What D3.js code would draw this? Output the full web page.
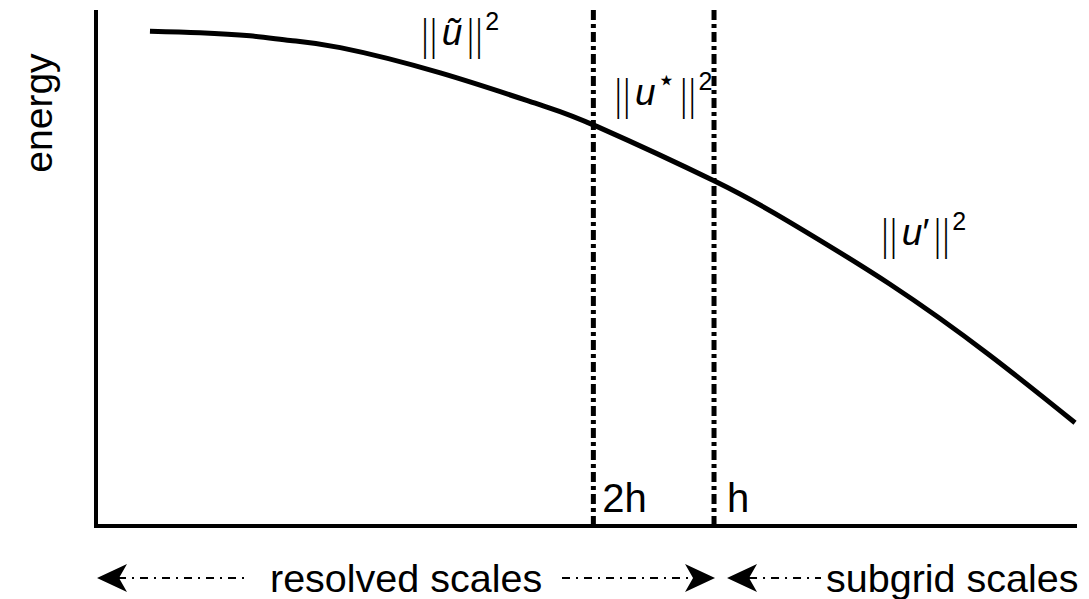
<!DOCTYPE html>
<html>
<head>
<meta charset="utf-8">
<script src="https://cdn.jsdelivr.net/npm/d3@7"></script>
<style>
  body { margin: 0; background: #fff; }
  svg { display: block; }
  text { font-family: "Liberation Sans", Arial, Helvetica, sans-serif; fill: #000; }
</style>
</head>
<body>
<div id="chart"></div>
<script>
// energy curve, scale position and energy both on 0-100
let scalePos = [5.5, 10.6, 15.7, 19.8, 24.9, 35.1, 45.3, 51.1, 63.1, 70.7, 80.9, 91.1, 99.8];
let energy   = [95.9, 95.6, 95.0, 94.1, 92.7, 87.8, 81.6, 77.4, 66.8, 58.9, 46.9, 33.1, 20.0];
let cutoffs = [50.7, 63.0];
let cutoffLabels = ["2h", "h"];
let rangeLabels = ["resolved scales", "subgrid scales"];

let width = 1089, height = 599;

let svg = d3.select("#chart").append("svg")
    .attr("width", width)
    .attr("height", height);

let x = d3.scaleLinear().domain([0, 100]).range([96, 1077]);
let y = d3.scaleLinear().domain([0, 100]).range([526, 10]);

let pts = scalePos.map((d, i) => [d, energy[i]]);

// axes (plain lines, no ticks)
svg.append("line")
    .attr("x1", x(0)).attr("x2", x(0))
    .attr("y1", y(100)).attr("y2", y(0) + 2)
    .attr("stroke", "#000").attr("stroke-width", 4);
svg.append("line")
    .attr("x1", x(0) - 2).attr("x2", x(100))
    .attr("y1", y(0)).attr("y2", y(0))
    .attr("stroke", "#000").attr("stroke-width", 4);

// cutoff lines
svg.selectAll(".cut")
    .data(cutoffs)
    .enter().append("line")
    .attr("class", "cut")
    .attr("x1", d => x(d)).attr("x2", d => x(d))
    .attr("y1", y(100)).attr("y2", y(0))
    .attr("stroke", "#000")
    .attr("stroke-width", 5)
    .attr("stroke-dasharray", "10,4,4,4");

svg.selectAll(".cutlabel")
    .data(cutoffs)
    .enter().append("text")
    .attr("class", "cutlabel")
    .attr("x", (d, i) => x(d) + (i == 0 ? 9 : 13))
    .attr("y", 512)
    .style("font-size", "40px")
    .text((d, i) => cutoffLabels[i]);

// energy curve
let line = d3.line()
    .x(d => x(d[0]))
    .y(d => y(d[1]))
    .curve(d3.curveNatural);

svg.append("path")
    .datum(pts)
    .attr("d", line)
    .attr("fill", "none")
    .attr("stroke", "#000")
    .attr("stroke-width", 5);

// norm labels
function bars(t, dx, dy) {
    return t.append("tspan").attr("dx", dx).attr("dy", dy)
        .style("font-family", "Lato").style("font-weight", 300)
        .style("font-size", "44px").style("letter-spacing", "-2px")
        .text("||");
}
function normLabel(px, py, letter, mark) {
    let t = svg.append("text")
        .attr("x", px).attr("y", py)
        .style("font-size", "37px");
    bars(t, 0, 6);
    t.append("tspan").attr("dx", 5).attr("dy", -6)
        .style("font-style", "italic").text(letter);
    let back = 0;
    if (mark) {
        t.append("tspan").attr("dx", mark.dx).attr("dy", mark.dy)
            .style("font-size", mark.size).text(mark.text);
        back = -mark.dy;
    }
    bars(t, 3, 6 + back);
    t.append("tspan").attr("dx", 3).attr("dy", -21)
        .style("font-size", "25px").text("2");
}

normLabel(x(33.0), y(93.2), "\u0169", null);
normLabel(x(52.7), y(81.6), "u", { text: "\u22C6", dx: 1, dy: -15, size: "30px" });
normLabel(x(79.9), y(54.5), "u", { text: "\u2032", dx: 0, dy: 0, size: "37px" });

// y label
svg.append("text")
    .attr("transform", "translate(52,113) rotate(-90)")
    .attr("text-anchor", "middle")
    .style("font-size", "39px")
    .text("energy");

// bottom scale ranges
let arrowY = 578;
function arrowHead(tx, dir) {
    let L = 30, W = 14, N = 22;
    svg.append("path")
        .attr("d", `M${tx},${arrowY} L${tx + dir * L},${arrowY - W} L${tx + dir * N},${arrowY} L${tx + dir * L},${arrowY + W} Z`)
        .attr("fill", "#000");
}
function dashSeg(a, b) {
    svg.append("line")
        .attr("x1", a).attr("x2", b)
        .attr("y1", arrowY).attr("y2", arrowY)
        .attr("stroke", "#000")
        .attr("stroke-width", 2)
        .attr("stroke-dasharray", "8,6,2,6");
}

arrowHead(x(0) + 1, 1);
dashSeg(x(0) + 22, 245);
svg.append("text")
    .attr("x", 270).attr("y", 592)
    .style("font-size", "39.5px")
    .text(rangeLabels[0]);
dashSeg(562, x(cutoffs[1]) - 10);
arrowHead(x(cutoffs[1]) + 1, -1);
arrowHead(x(cutoffs[1]) + 13, 1);
dashSeg(x(cutoffs[1]) + 35, 821);
svg.append("text")
    .attr("x", 826).attr("y", 592)
    .style("font-size", "39.5px")
    .text(rangeLabels[1]);
</script>
</body>
</html>
